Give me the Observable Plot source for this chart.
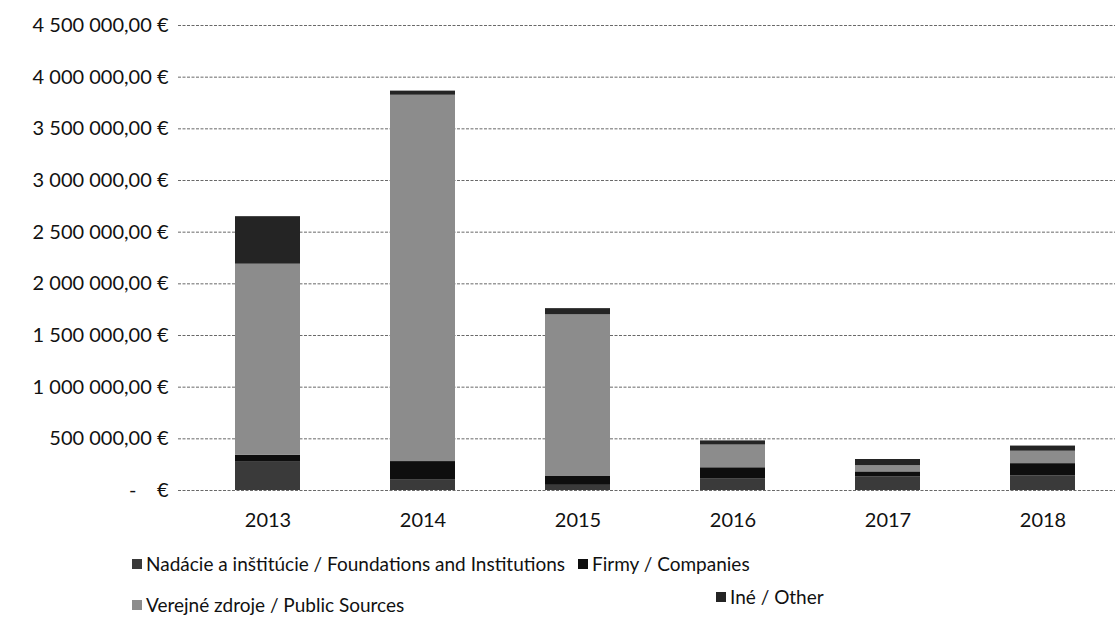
<!DOCTYPE html>
<html>
<head>
<meta charset="utf-8">
<script src="https://cdn.jsdelivr.net/npm/d3@7"></script>
<script src="https://cdn.jsdelivr.net/npm/@observablehq/plot@0.6"></script>
<style>
  html, body { margin: 0; padding: 0; background: #fff; }
  #wrap { position: relative; width: 1115px; height: 627px; font-family: Lato, "Open Sans", sans-serif; color: #111; }
  .leg { position: absolute; font-size: 19px; white-space: nowrap; display: flex; align-items: center; }
  .sw { display: inline-block; width: 10px; height: 10px; margin-right: 4px; }
</style>
</head>
<body>
<div id="wrap"></div>
<script>
const years = ["2013", "2014", "2015", "2016", "2017", "2018"];
const seriesNames = [
  "Nadácie a inštitúcie / Foundations and Institutions",
  "Firmy / Companies",
  "Verejné zdroje / Public Sources",
  "Iné / Other"
];
const nadacie = [280000, 100000, 50000, 110000, 130000, 140000];
const firmy   = [60000, 180000, 90000, 110000, 50000, 120000];
const verejne = [1850000, 3545000, 1560000, 220000, 60000, 120000];
const ine     = [460000, 40000, 60000, 40000, 60000, 50000];
const seriesColors = ["#3a3a3a", "#0e0e0e", "#8c8c8c", "#242424"];
const yTicks = [0, 500000, 1000000, 1500000, 2000000, 2500000, 3000000, 3500000, 4000000, 4500000];

const valuesBySeries = [nadacie, firmy, verejne, ine];
const data = [];
seriesNames.forEach((s, si) => years.forEach((y, yi) => data.push({year: y, series: s, value: valuesBySeries[si][yi]})));

const fmt = v => v === 0 ? "-\u00a0\u00a0\u00a0\u00a0€"
  : d3.format(",.2f")(v).replace(/,/g, " ").replace(".", ",") + " €";

const chart = Plot.plot({
  width: 1115,
  height: 540,
  marginLeft: 178,
  marginRight: 0,
  marginTop: 25,
  marginBottom: 50,
  style: {fontFamily: "Lato, 'Open Sans', sans-serif", fontSize: "20px", color: "#111", background: "#fff"},
  x: {domain: years, range: [188, 1122], paddingInner: 0.58, paddingOuter: 0.29, label: null, tickSize: 0, tickPadding: 22},
  y: {domain: [0, 4500000], ticks: yTicks, tickFormat: fmt, label: null, tickSize: 0, tickPadding: 10},
  color: {domain: seriesNames, range: seriesColors},
  marks: [
    Plot.ruleY(yTicks, {stroke: "#444", strokeWidth: 1, strokeDasharray: "3,1.5", strokeOpacity: 0.8}),
    Plot.barY(data, {x: "year", y: "value", fill: "series", order: seriesNames})
  ]
});
chart.querySelectorAll("[aria-label='x-axis tick label'] text, [aria-label='y-axis tick label'] text").forEach(t => t.style.fontSize = "20px");
const wrap = document.getElementById("wrap");
wrap.appendChild(chart);

const legendPos = [
  {x: 132, y: 552},
  {x: 578, y: 552},
  {x: 132, y: 593},
  {x: 716, y: 585}
];
seriesNames.forEach((s, i) => {
  const d = document.createElement("div");
  d.className = "leg";
  d.style.left = legendPos[i].x + "px";
  d.style.top = legendPos[i].y + "px";
  const sw = document.createElement("span");
  sw.className = "sw";
  sw.style.background = seriesColors[i];
  d.appendChild(sw);
  d.appendChild(document.createTextNode(s));
  wrap.appendChild(d);
});
</script>
</body>
</html>
